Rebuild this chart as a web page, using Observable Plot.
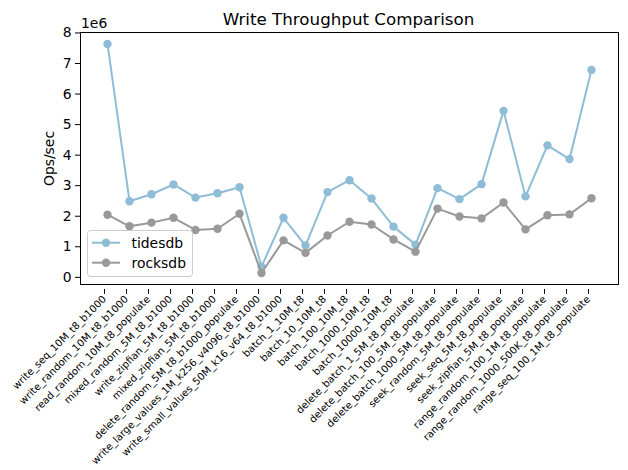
<!DOCTYPE html>
<html><head>
<meta charset="utf-8">
<script src="https://cdn.jsdelivr.net/npm/d3@7"></script>
<script src="https://cdn.jsdelivr.net/npm/@observablehq/plot@0.6"></script>
<style>body{margin:0;background:#fff} #chart svg{font-family:"DejaVu Sans";display:block}</style>
</head><body><div id="chart"></div>
<script>
const categories = [
  "write_seq_10M_t8_b1000", "write_random_10M_t8_b1000", "read_random_10M_t8_populate",
  "mixed_random_5M_t8_b1000", "write_zipfian_5M_t8_b1000", "mixed_zipfian_5M_t8_b1000",
  "delete_random_5M_t8_b1000_populate", "write_large_values_1M_k256_v4096_t8_b1000",
  "write_small_values_50M_k16_v64_t8_b1000", "batch_1_10M_t8", "batch_10_10M_t8",
  "batch_100_10M_t8", "batch_1000_10M_t8", "batch_10000_10M_t8",
  "delete_batch_1_5M_t8_populate", "delete_batch_100_5M_t8_populate",
  "delete_batch_1000_5M_t8_populate", "seek_random_5M_t8_populate",
  "seek_seq_5M_t8_populate", "seek_zipfian_5M_t8_populate",
  "range_random_100_1M_t8_populate", "range_random_1000_500K_t8_populate",
  "range_seq_100_1M_t8_populate"
];
const tidesdb = [7640000, 2490000, 2720000, 3040000, 2610000, 2750000, 2950000, 350000,
  1950000, 1040000, 2790000, 3180000, 2580000, 1660000, 1070000, 2920000, 2560000,
  3050000, 5450000, 2650000, 4320000, 3870000, 6790000];
const rocksdb = [2050000, 1670000, 1790000, 1950000, 1550000, 1590000, 2080000, 140000,
  1210000, 800000, 1370000, 1820000, 1730000, 1240000, 840000, 2250000, 1990000,
  1930000, 2450000, 1570000, 2030000, 2060000, 2590000];
const seriesNames = ["tidesdb", "rocksdb"];
const seriesColors = ["#8fbcd6", "#999999"];
const yTicks = [0, 1e6, 2e6, 3e6, 4e6, 5e6, 6e6, 7e6, 8e6];

const seriesValues = {tidesdb, rocksdb};
const data = seriesNames.flatMap(s => categories.map((c, i) => ({cat: c, engine: s, v: seriesValues[s][i]})));
const all = tidesdb.concat(rocksdb);
const lo = d3.min(all), hi = d3.max(all), pad = (hi - lo) * 0.05;

const seriesMarks = seriesNames.flatMap((s, k) => [
  Plot.line(data.filter(d => d.engine === s), {x: "cat", y: "v", stroke: seriesColors[k], strokeWidth: 2}),
  Plot.dot(data.filter(d => d.engine === s), {x: "cat", y: "v", fill: seriesColors[k], r: 4.2, stroke: "none"})
]);

const chart = Plot.plot({
  width: 628, height: 470,
  marginLeft: 80, marginRight: 10, marginTop: 32, marginBottom: 186,
  style: {fontFamily: "DejaVu Sans", background: "white", color: "black"},
  x: {type: "point", domain: categories, padding: 1.1},
  y: {domain: [lo - pad, hi + pad]},
  marks: [
    Plot.axisY({ticks: yTicks, tickFormat: d => d / 1e6, tickSize: 5, tickPadding: 4, fontSize: 13.9,
      label: "Ops/sec", labelAnchor: "center", labelArrow: "none", labelOffset: 36}),
    Plot.axisX({tickRotate: -45, fontSize: 10.1, tickSize: 5, tickPadding: 3, label: null, dx: -3, dy: 5}),
    ...seriesMarks,
    Plot.frame({stroke: "black", strokeWidth: 1})
  ]
});
document.getElementById("chart").appendChild(chart);

const svg = d3.select(chart);
svg.append("text").attr("x", 348.5).attr("y", 25).attr("text-anchor", "middle")
  .attr("font-size", 16.7).attr("fill", "black").text("Write Throughput Comparison");
svg.append("text").attr("x", 81).attr("y", 27.5).attr("text-anchor", "start")
  .attr("font-size", 13.9).attr("fill", "black").text("1e6");

const lg = svg.append("g");
lg.append("rect").attr("x", 87.5).attr("y", 230.5).attr("width", 105).attr("height", 46).attr("rx", 3)
  .attr("fill", "white").attr("fill-opacity", 0.8).attr("stroke", "#cccccc");
seriesNames.forEach((s, k) => {
  const yy = 242.7 + k * 20;
  lg.append("line").attr("x1", 92).attr("x2", 120).attr("y1", yy).attr("y2", yy)
    .attr("stroke", seriesColors[k]).attr("stroke-width", 2);
  lg.append("circle").attr("cx", 106).attr("cy", yy).attr("r", 4.2).attr("fill", seriesColors[k]);
  lg.append("text").attr("x", 131.5).attr("y", yy).attr("dy", "0.35em").attr("text-anchor", "start")
    .attr("font-size", 13.9).attr("fill", "black").text(s);
});
</script>
</body></html>
